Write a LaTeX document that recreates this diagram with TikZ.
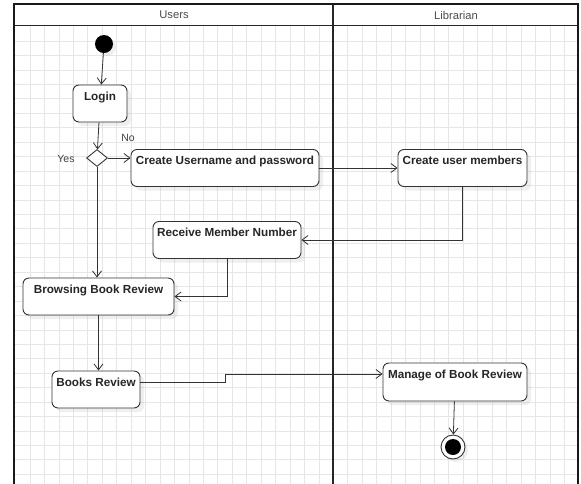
\documentclass[tikz,border=0pt]{standalone}
\usepackage{fontspec}
\setmainfont{Liberation Sans}
\usetikzlibrary{arrows.meta,shapes.geometric,shadows}
\definecolor{linegray}{HTML}{333333}
\definecolor{gridgray}{HTML}{E6E6E6}
\begin{document}
\begin{tikzpicture}[x=1pt,y=1pt,
        act/.style={draw=linegray, fill=white, rounded corners=6pt, line width=0.9pt,
            font=\bfseries\fontsize{11.7}{13}\selectfont, text=black!85,
            minimum height=37pt, inner ysep=4pt, text height=11pt, text depth=18pt,
            drop shadow={opacity=0.12, shadow xshift=4pt, shadow yshift=-4pt}},
        flow/.style={draw=linegray, line width=0.8pt, -{Straight Barb[length=6pt,width=9pt]}},
        guard/.style={text=black!75, font=\fontsize{10.5}{12}\selectfont},
        lane/.style={text=black!70, font=\fontsize{11.2}{13}\selectfont}]
    \useasboundingbox (0,0) rectangle (581,-483);
    \clip (0,0) rectangle (581,-483);
    \fill[white] (0,0) rectangle (581,-483);
    % background grid
    \foreach \gx in {0,...,38}
        \draw[gridgray, line width=0.6pt] (30+14.44*\gx,-25) -- (30+14.44*\gx,-490);
    \foreach \gy in {0,...,31}
        \draw[gridgray, line width=0.6pt] (14,-41-14.44*\gy) -- (578,-41-14.44*\gy);
    % swimlanes
    \draw[black!85, line width=1pt] (14,-25) -- (578,-25);
    \draw[black!85, line width=1.6pt] (333,-4) -- (333,-490);
    \draw[black!90, line width=1.8pt] (14,-490) -- (14,-4) -- (578,-4) -- (578,-490);
    \node[lane] (users) at (174,-15) {Users};
    \node[lane] (librarian) at (456,-15) {Librarian};
    % actions
    \node[circle, fill=black, minimum size=18pt, inner sep=0pt,
        drop shadow={opacity=0.12, shadow xshift=3pt, shadow yshift=-3pt}] (start) at (104,-44) {};
    \node[act, minimum width=54pt] (login) at (100,-103.5) {Login};
    \node[diamond, draw=linegray, fill=white, line width=0.9pt, minimum width=21pt,
        minimum height=17pt, inner sep=0pt] (dec) at (97,-158) {};
    \node[guard] (yes) at (66,-159) {Yes};
    \node[guard] (no) at (128,-138) {No};
    \node[act, minimum width=188pt] (cuser) at (225,-168) {Create Username and password};
    \node[act, minimum width=129pt] (cmem) at (462.5,-168) {Create user members};
    \node[act, minimum width=148pt] (recv) at (227,-240) {Receive Member Number};
    \node[act, minimum width=151pt] (browse) at (98.5,-296.5) {Browsing Book Review};
    \node[act, minimum width=88pt] (books) at (96,-389.5) {Books Review};
    \node[act, minimum width=144pt, minimum height=38pt] (manage) at (455,-382) {Manage of Book Review};
    \node[circle, draw=linegray, fill=white, line width=0.9pt, minimum size=24pt, inner sep=0pt,
        drop shadow={opacity=0.12, shadow xshift=3pt, shadow yshift=-3pt}] (finish) at (453,-447) {};
    \fill[black] (finish) circle (8pt);
    % flows
    \draw[flow] (start) -- (login);
    \draw[flow] (login) -- (dec);
    \draw[flow] (dec.east) -- (dec.east -| cuser.west);
    \draw[flow] (dec.south) -- (dec.south |- browse.north);
    \draw[flow] (cuser) -- (cmem);
    \draw[flow] (cmem.south) |- (recv.east);
    \draw[flow] (recv.south) |- (browse.east);
    \draw[flow] (browse.south) -- (browse.south |- books.north);
    \draw[flow] ([yshift=7pt]books.east) -- (225,-382.5) -- (225,-374) -- ([yshift=8pt]manage.west);
    \draw[flow] (manage) -- (finish);
\end{tikzpicture}
\end{document}
